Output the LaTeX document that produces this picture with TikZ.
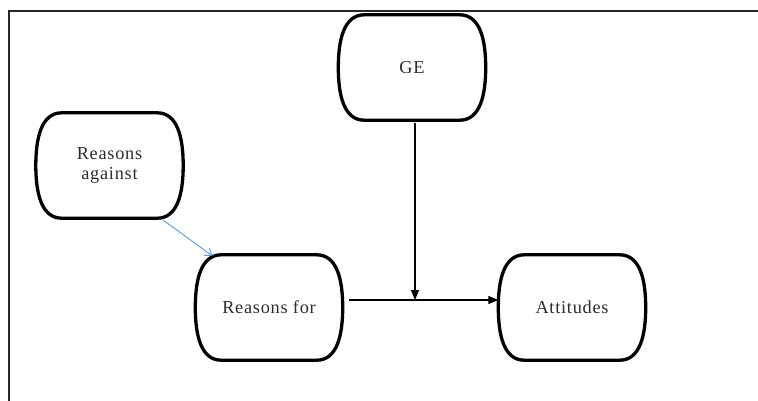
\documentclass[tikz,border=0pt]{standalone}
\usepackage{fontspec}
\setmainfont{Liberation Serif}[LetterSpace=4]
\usetikzlibrary{arrows.meta,calc}

\definecolor{linkblue}{RGB}{91,155,213}
\definecolor{textgrey}{RGB}{45,45,45}

% Outline of a box with straight top/bottom and bulging sides
\newcommand\drawcapsule[1]{%
  \draw[boxline] ([xshift=26pt]#1.north west) -- ([xshift=-26pt]#1.north east)
    .. controls ([xshift=-6pt]#1.north east) and ([yshift=-24pt]#1.north east) .. (#1.east)
    .. controls ([yshift=24pt]#1.south east) and ([xshift=-6pt]#1.south east) .. ([xshift=-26pt]#1.south east)
    -- ([xshift=26pt]#1.south west)
    .. controls ([xshift=6pt]#1.south west) and ([yshift=24pt]#1.south west) .. (#1.west)
    .. controls ([yshift=-24pt]#1.north west) and ([xshift=6pt]#1.north west) .. cycle;}

\begin{document}
\begin{tikzpicture}[x=1pt,y=-1pt,
  capsule/.style={minimum width=147pt, minimum height=105pt, inner sep=0pt,
    align=center, text=textgrey, font=\fontsize{18.3}{20.5}\selectfont},
  boxline/.style={line width=3.3pt, line join=round},
  arr/.style={line width=1.1pt, -{Triangle[length=10pt,width=8pt]}},
  bluearr/.style={line width=0.9pt, linkblue, -{Straight Barb[length=6pt,width=9pt]}}]

\useasboundingbox (0,0) rectangle (758,400);
\fill[white] (0,0) rectangle (758,400);

% outer frame (open at the right and at the bottom)
\draw[line width=2pt, black!85] (8.5,404) -- (8.5,11) -- (764,11);

\node[capsule] (ge)  at (412,67.5)  {GE};
\node[capsule] (ra)  at (109.5,165.5) {Reasons\\against};
\node[capsule] (rf)  at (269,307.5) {Reasons for};
\node[capsule] (att) at (572,307.5) {Attitudes};

\drawcapsule{ge}
\drawcapsule{ra}
\drawcapsule{rf}
\drawcapsule{att}

\coordinate (j) at (415,300);

\draw[arr] ([xshift=6pt,yshift=7.5pt]rf.east) -- (j -| att.west);
\draw[arr] ([yshift=-3pt]j |- ge.south) -- (j);
\draw[bluearr] ([xshift=-20pt,yshift=-2pt]ra.south east) -- ([xshift=17pt,yshift=-1pt]rf.north west);

\end{tikzpicture}
\end{document}
